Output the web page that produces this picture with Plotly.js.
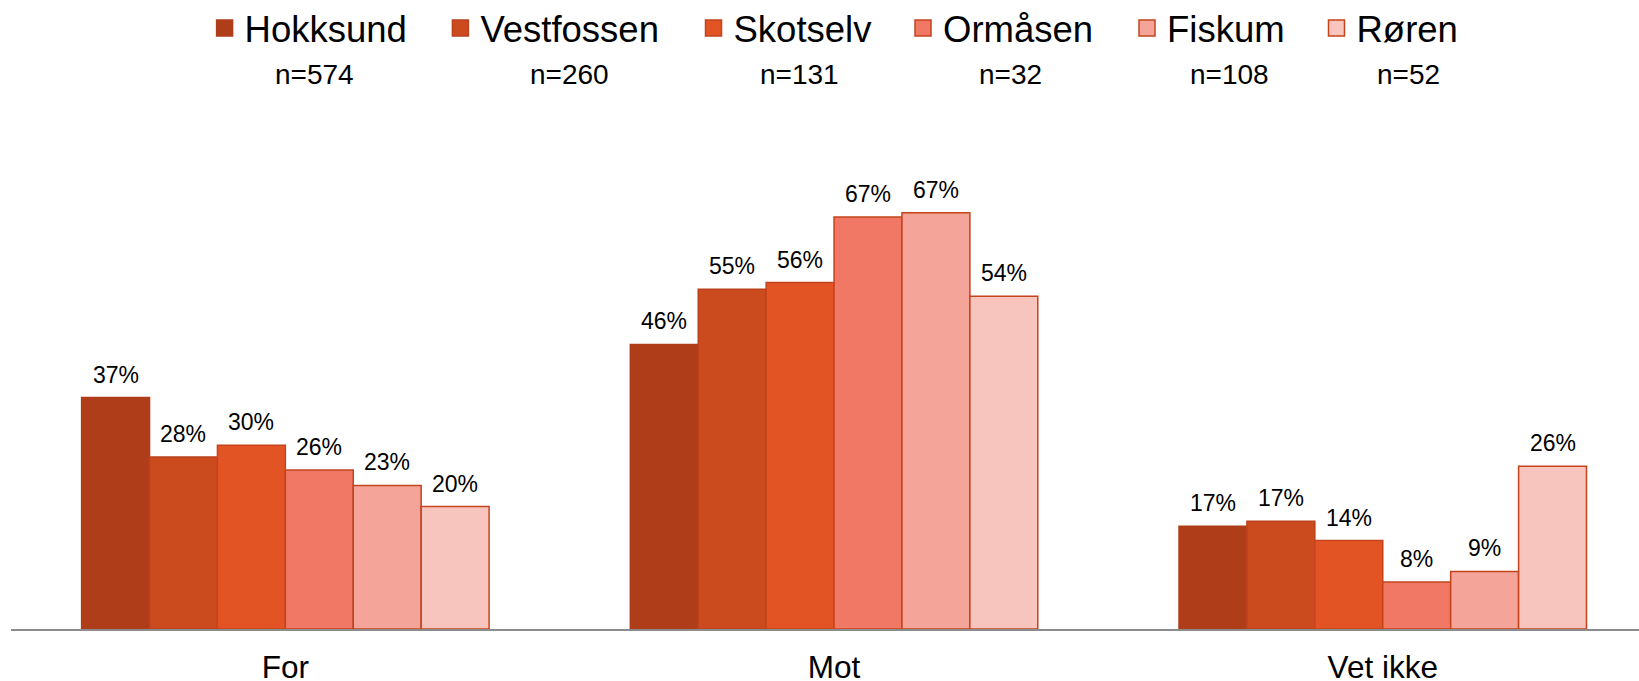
<!DOCTYPE html>
<html>
<head>
<meta charset="utf-8">
<script src="https://cdn.plot.ly/plotly-3.0.1.min.js"></script>
<style>html,body{margin:0;padding:0;background:#fff;}#chart{width:1639px;height:681px;}</style>
</head>
<body>
<div id="chart"></div>
<script>
// ---- data ----
const categories = ["For", "Mot", "Vet ikke"];
const seriesNames = ["Hokksund", "Vestfossen", "Skotselv", "Ormåsen", "Fiskum", "Røren"];
const nCounts = [574, 260, 131, 32, 108, 52];
const hokksund   = [37.4, 46.0, 16.6];
const vestfossen = [27.8, 54.9, 17.4];
const skotselv   = [29.7, 56.0, 14.3];
const ormaasen   = [25.7, 66.6, 7.6];
const fiskum     = [23.2, 67.3, 9.3];
const roeren     = [19.8, 53.8, 26.3];
const hokksundLabels   = ["37%", "46%", "17%"];
const vestfossenLabels = ["28%", "55%", "17%"];
const skotselvLabels   = ["30%", "56%", "14%"];
const ormaasenLabels   = ["26%", "67%", "8%"];
const fiskumLabels     = ["23%", "67%", "9%"];
const roerenLabels     = ["20%", "54%", "26%"];

// ---- styling ----
const values = [hokksund, vestfossen, skotselv, ormaasen, fiskum, roeren];
const labels = [hokksundLabels, vestfossenLabels, skotselvLabels, ormaasenLabels, fiskumLabels, roerenLabels];
const colors = ["#B03D19", "#CB4A1E", "#E35425", "#F07864", "#F4A499", "#F8C4BE"];
const lineColors = ["#B03D19", "#BC421C", "#C4441D", "#C4441D", "#C4441D", "#C4441D"];
const FONT = "Liberation Sans, Arial, sans-serif";
const bargap = 0.2574;
const nSeries = seriesNames.length;
const barW = (1 - bargap) / nSeries;

const marginL = 11, plotW = 1628;
const toPaperX = px => (px - marginL) / plotW;
const plotBottom = 629.5, plotH = 464.6;
const toPaperY = py => (plotBottom - py) / plotH;

// legend text start positions (px) and n-label centers (px)
const legendTextStart = [244.6, 480.4, 733.5, 943, 1167, 1356.5];
const nCenters = [314, 569, 799, 1010, 1229, 1408];

const traces = [];
seriesNames.forEach((name, j) => {
  traces.push({
    type: "bar",
    name: name,
    x: categories,
    y: values[j],
    marker: {color: colors[j], line: {color: lineColors[j], width: 1.5}},
    showlegend: false,
    hoverinfo: "skip"
  });
});
// legend entries (square swatches)
seriesNames.forEach((name, j) => {
  traces.push({
    type: "scatter",
    mode: "markers",
    name: name,
    x: [null], y: [null],
    marker: {symbol: "square", size: 16, color: colors[j], line: {color: lineColors[j], width: 1.5}},
    legend: j === 0 ? "legend" : "legend" + (j + 1),
    showlegend: true,
    hoverinfo: "skip"
  });
});

const annotations = [];
seriesNames.forEach((name, j) => {
  categories.forEach((c, i) => {
    annotations.push({
      x: i + (j - (nSeries - 1) / 2) * barW,
      y: values[j][i],
      xref: "x", yref: "y",
      text: labels[j][i],
      showarrow: false,
      yanchor: "bottom",
      yshift: 8,
      font: {family: FONT, size: 23, color: "#000"}
    });
  });
  annotations.push({
    x: toPaperX(nCenters[j]),
    y: toPaperY(74),
    xref: "paper", yref: "paper",
    text: "n=" + nCounts[j],
    showarrow: false,
    xanchor: "center", yanchor: "middle",
    font: {family: FONT, size: 28, color: "#000"}
  });
});

const layout = {
  width: 1639, height: 681,
  margin: {l: marginL, r: 0, t: 681 - 51.5 - plotH, b: 51.5, pad: 0, autoexpand: false},
  paper_bgcolor: "#fff", plot_bgcolor: "#fff",
  barmode: "group",
  bargap: bargap,
  bargroupgap: 0,
  showlegend: true,
  font: {family: FONT, color: "#000"},
  xaxis: {
    type: "category",
    range: [-0.5, 2.467],
    showline: true, linecolor: "#8C8C8C", linewidth: 2,
    showgrid: false, zeroline: false,
    ticks: "", ticklabelstandoff: 9,
    tickfont: {family: FONT, size: 31.5, color: "#000"},
    fixedrange: true
  },
  yaxis: {
    range: [0, 75],
    visible: false, showgrid: false, zeroline: false, fixedrange: true
  },
  annotations: annotations
};

seriesNames.forEach((name, j) => {
  const key = j === 0 ? "legend" : "legend" + (j + 1);
  layout[key] = {
    orientation: "h",
    x: toPaperX(legendTextStart[j] - 40),
    xanchor: "left",
    y: toPaperY(28),
    yanchor: "middle",
    bgcolor: "rgba(0,0,0,0)",
    borderwidth: 0,
    itemsizing: "trace",
    font: {family: FONT, size: 36.5, color: "#000"}
  };
});

Plotly.newPlot("chart", traces, layout, {displayModeBar: false, staticPlot: true});
</script>
</body>
</html>
